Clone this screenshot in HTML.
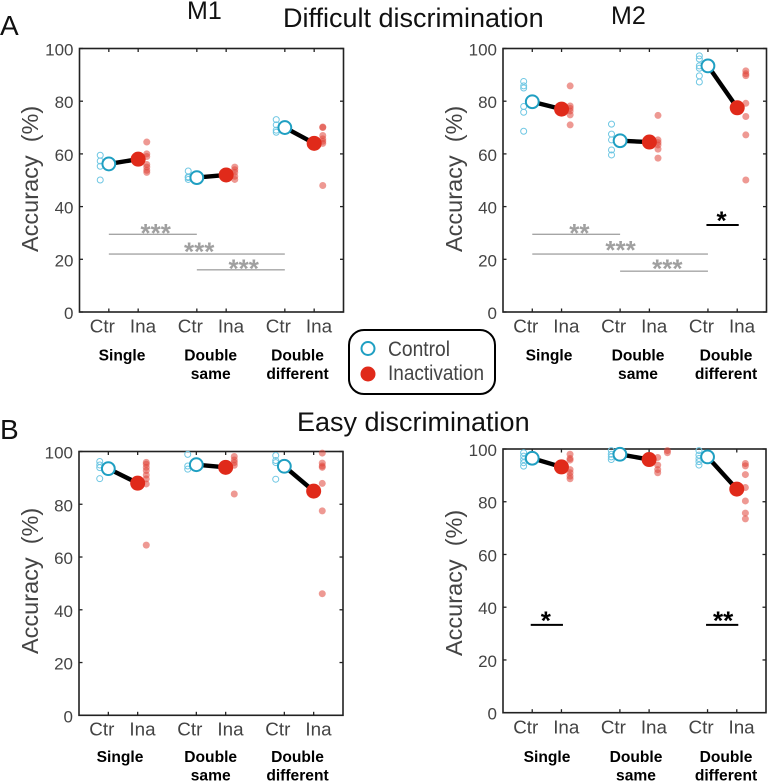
<!DOCTYPE html>
<html lang="en">
<head>
<meta charset="utf-8">
<title>Accuracy under control and inactivation</title>
<style>
html,body{margin:0;padding:0;background:#fff;}
svg{display:block;font-family:"Liberation Sans",Arial,sans-serif;}
</style>
</head>
<body>
<svg id="fig" width="768" height="781" viewBox="0 0 768 781" xmlns="http://www.w3.org/2000/svg">
  <text x="0" y="35" font-size="28" fill="#111">A</text>
  <text x="0" y="439" font-size="28" fill="#111">B</text>
  <text x="187" y="19" font-size="25" fill="#111">M1</text>
  <text x="611" y="24" font-size="25" fill="#111">M2</text>
  <text x="283" y="27" font-size="27" fill="#111">Difficult discrimination</text>
  <text x="297" y="431" font-size="27" fill="#111">Easy discrimination</text>
  <g>
    <rect x="349" y="330" width="146" height="64" rx="15" fill="#fff" stroke="#000" stroke-width="2"/>
    <circle cx="368" cy="348.500" r="6.500" fill="#fff" stroke="#1f9fc2" stroke-width="2"/>
    <circle cx="368" cy="374" r="7.500" fill="#e02a1a"/>
    <text x="388" y="356" font-size="21" fill="#444" textLength="62" lengthAdjust="spacingAndGlyphs">Control</text>
    <text x="388" y="380" font-size="21" fill="#444" textLength="96" lengthAdjust="spacingAndGlyphs">Inactivation</text>
  </g>
</svg>
<script>
// Shared labels
const yTicks = [0, 20, 40, 60, 80, 100];
const xTickUnits = [1, 2, 4, 5, 7, 8];
const xTickLabels = ['Ctr', 'Ina', 'Ctr', 'Ina', 'Ctr', 'Ina'];
const categoryLine1 = ['Single', 'Double', 'Double'];
const categoryLine2 = ['', 'same', 'different'];

// Panel A, M1
const a1CtrMeans = [56.2, 51, 70];
const a1InaMeans = [58, 52, 64];
const a1CtrPoints = [[59.5, 57.3, 55.3, 50.1], [53.5, 51.3, 50.3, 51], [73, 71, 69, 68.2]];
const a1InaPoints = [[64.5, 60, 59, 56, 55, 53.8, 53], [55, 54, 53, 51.5, 50.3], [70.2, 70, 67, 65.7, 64.8, 64, 48]];
const a1InaOuter = [[], [], []];
const a1SigValues = [29.5, 22, 16];
const a1SigStart = [1, 1, 4];
const a1SigEnd = [4, 7, 7];
const a1SigLabels = ['***', '***', '***'];

// Panel A, M2
const a2CtrMeans = [79.8, 65, 93.4];
const a2InaMeans = [77, 64.5, 77.5];
const a2CtrPoints = [[87.5, 85.8, 85, 78, 75.8, 68.6], [71.3, 67.5, 65.3, 61.5, 59.6], [97.2, 96, 93.4, 92.5, 89.6, 87.3]];
const a2InaPoints = [[85.8, 78.2, 77.3, 76.3, 74.8, 71], [74.6, 65.3, 64.3, 63.4, 61.8, 58.4], [91.5, 90.4, 89.7, 79.2, 74.2, 67.2, 50.1]];
const a2InaOuter = [[], [], []];
const a2SigValues = [29.5, 22, 15.5, 33];
const a2SigStart = [1, 1, 4, 7];
const a2SigEnd = [4, 7, 7, 8];
const a2SigLabels = ['**', '***', '***', '*'];

// Panel B, M1
const b1CtrMeans = [93.5, 95, 94.4];
const b1InaMeans = [88, 94, 85];
const b1CtrPoints = [[96.2, 94.9, 93.9, 89.7], [98.9, 94.5, 93.3], [98.5, 96.6, 95.8, 89.5]];
const b1InaPoints = [[95.9, 95.2, 94, 92.8, 91.1, 89.6, 87.7, 64.5], [98.1, 96.8, 95.8, 94.8, 83.9], [99.4, 95.6, 94.5, 94, 87.9, 77.5, 46.1]];
const b1InaOuter = [[], [], []];
const b1SigValues = [];
const b1SigStart = [];
const b1SigEnd = [];
const b1SigLabels = [];

// Panel B, M2
const b2CtrMeans = [96.5, 98, 97];
const b2InaMeans = [93.2, 96, 84.8];
const b2CtrPoints = [[98.6, 97.3, 96, 94.8, 93.5], [99.4, 98, 97, 96], [99.4, 97.7, 96.4, 95.2, 93.9]];
const b2InaPoints = [[98, 96.4, 95.8, 92.2, 91, 89.7, 88.7], [96.8, 93.9, 92.2, 91], [94.5, 93.6, 90.3, 85.4, 80.3, 75.7, 73.5]];
const b2InaOuter = [[], [99.4, 98.6], []];
const b2SigValues = [33.3, 33.3];
const b2SigStart = [1, 7];
const b2SigEnd = [2, 8];
const b2SigLabels = ['*', '**'];

const NS = 'http://www.w3.org/2000/svg';
const fig = document.getElementById('fig');

function mk(parent, tag, attrs, text) {
  const el = document.createElementNS(NS, tag);
  for (const k in attrs) el.setAttribute(k, attrs[k]);
  if (text !== undefined) el.textContent = text;
  parent.appendChild(el);
  return el;
}

function drawPanel(p) {
  const xs = u => p.left + (p.right - p.left) * u / 9;
  const ys = v => p.bottom - (p.bottom - p.top) * v / 100;

  const g = mk(fig, 'g', {});
  
  

  const frame = mk(g, 'rect', {x: p.left, y: p.top, width: p.right - p.left, height: p.bottom - p.top, fill: 'none', stroke: '#222', 'stroke-width': 1.6});
  
  

  yTicks.forEach(v => {
    const y = ys(v);
    const t1 = mk(g, 'line', {x1: p.left, x2: p.left + 3.5, y1: y, y2: y, stroke: '#222', 'stroke-width': 1.3});
    
    
    const t2 = mk(g, 'line', {x1: p.right, x2: p.right - 3.5, y1: y, y2: y, stroke: '#222', 'stroke-width': 1.3});
    
    
    const lab = mk(g, 'text', {x: p.left - 6, y: y + 7, 'text-anchor': 'end', 'font-size': 17, fill: '#444'}, String(v));
    
    
  });

  xTickUnits.forEach((u, i) => {
    const x = xs(u);
    const t1 = mk(g, 'line', {x1: x, x2: x, y1: p.bottom, y2: p.bottom - 3.5, stroke: '#222', 'stroke-width': 1.3});
    
    
    const t2 = mk(g, 'line', {x1: x, x2: x, y1: p.top, y2: p.top + 3.5, stroke: '#222', 'stroke-width': 1.3});
    
    
    const off = i % 2 === 0 ? -6.5 : 4.8;
    const lab = mk(g, 'text', {x: x + off, y: p.xLabelY, 'text-anchor': 'middle', 'font-size': 18.8, fill: '#444'}, xTickLabels[i]);
    
    
  });

  categoryLine1.forEach((c, i) => {
    const l1 = mk(g, 'text', {x: p.catX[i], y: p.catY, 'text-anchor': 'middle', 'font-size': 15.6, 'font-weight': 'bold', fill: '#000'}, c);
    
    
    if (categoryLine2[i]) {
      const l2 = mk(g, 'text', {x: p.catX[i], y: p.catY + 18.5, 'text-anchor': 'middle', 'font-size': 15.6, 'font-weight': 'bold', fill: '#000'}, categoryLine2[i]);
      
      
    }
  });

  const yt = mk(g, 'text', {transform: 'translate(' + p.titleX + ' ' + p.titleY + ') rotate(-90)', 'font-size': 23.5, fill: '#444', style: 'white-space:pre'}, 'Accuracy  (%)');
  
  

  p.ctrPoints.forEach((arr, i) => {
    arr.forEach(v => {
      const c = mk(g, 'circle', {cx: xs(3 * i + 1) - 8.6, cy: ys(v), r: 3, fill: 'none', stroke: '#6fc7e3', 'stroke-width': 1});
      
      
    });
  });
  p.inaPoints.forEach((arr, i) => {
    arr.forEach(v => {
      const c = mk(g, 'circle', {cx: xs(3 * i + 2) + 8.6, cy: ys(v), r: 3.5, fill: '#e0453a', 'fill-opacity': 0.55});
      
      
    });
  });
  p.inaOuter.forEach((arr, i) => {
    arr.forEach(v => {
      const c = mk(g, 'circle', {cx: xs(3 * i + 2) + 18.3, cy: ys(v), r: 3.5, fill: '#e0453a', 'fill-opacity': 0.55});
      
      
    });
  });

  p.ctrMeans.forEach((v, i) => {
    const ln = mk(g, 'line', {x1: xs(3 * i + 1), x2: xs(3 * i + 2), y1: ys(v), y2: ys(p.inaMeans[i]), stroke: '#000', 'stroke-width': 4.4});
    
    
    const m1 = mk(g, 'circle', {cx: xs(3 * i + 1), cy: ys(v), r: 6.4, fill: '#fff', stroke: '#1f9fc2', 'stroke-width': 2});
    
    
    const m2 = mk(g, 'circle', {cx: xs(3 * i + 2), cy: ys(p.inaMeans[i]), r: 7.5, fill: '#e02a1a'});
    
    
  });

  p.sigValues.forEach((v, i) => {
    const black = p.sigStart[i] + 1 === p.sigEnd[i];
    const col = black ? '#000' : '#a5a5a5';
    const pad = black ? 1.5 : 0;
    const b = mk(g, 'line', {x1: xs(p.sigStart[i]) - pad, x2: xs(p.sigEnd[i]) + pad, y1: ys(v), y2: ys(v), stroke: col, 'stroke-width': black ? 2 : 1.4});
    
    
    const cx = (xs(p.sigStart[i]) + xs(p.sigEnd[i])) / 2 + p.starDx[i];
    const s = mk(g, 'text', {x: cx, y: ys(v) + p.starDy[i], 'text-anchor': 'middle', 'font-size': 26, 'font-weight': 'bold', fill: black ? '#000' : '#a0a0a0'}, p.sigLabels[i]);
    
    
  });
}

drawPanel({
  name: 'difficult-m1', left: 79.5, right: 343.5, top: 48.5, bottom: 312,
  xLabelY: 332.5, catX: [122, 210.7, 297.5], catY: 360.5, titleX: 38, titleY: 252,
  ctrMeans: a1CtrMeans, inaMeans: a1InaMeans, ctrPoints: a1CtrPoints, inaPoints: a1InaPoints, inaOuter: a1InaOuter,
  sigValues: a1SigValues, sigStart: a1SigStart, sigEnd: a1SigEnd, sigLabels: a1SigLabels,
  starDx: [2.8, 2.4, 2.9], starDy: [7.5, 6.5, 7.5]
});
drawPanel({
  name: 'difficult-m2', left: 503, right: 766.5, top: 48.5, bottom: 312,
  xLabelY: 332.5, catX: [549, 638, 726], catY: 360.5, titleX: 462, titleY: 252,
  ctrMeans: a2CtrMeans, inaMeans: a2InaMeans, ctrPoints: a2CtrPoints, inaPoints: a2InaPoints, inaOuter: a2InaOuter,
  sigValues: a2SigValues, sigStart: a2SigStart, sigEnd: a2SigEnd, sigLabels: a2SigLabels,
  starDx: [3.2, 0.4, 3.3, -1], starDy: [7.5, 5, 6.5, 4.5]
});
drawPanel({
  name: 'easy-m1', left: 79, right: 343, top: 451.5, bottom: 715.3,
  xLabelY: 735.5, catX: [120, 210.7, 297.5], catY: 762, titleX: 38, titleY: 654,
  ctrMeans: b1CtrMeans, inaMeans: b1InaMeans, ctrPoints: b1CtrPoints, inaPoints: b1InaPoints, inaOuter: b1InaOuter,
  sigValues: b1SigValues, sigStart: b1SigStart, sigEnd: b1SigEnd, sigLabels: b1SigLabels,
  starDx: [], starDy: []
});
drawPanel({
  name: 'easy-m2', left: 503, right: 766, top: 449, bottom: 712.7,
  xLabelY: 733.5, catX: [547, 636, 726], catY: 762, titleX: 462, titleY: 656,
  ctrMeans: b2CtrMeans, inaMeans: b2InaMeans, ctrPoints: b2CtrPoints, inaPoints: b2InaPoints, inaOuter: b2InaOuter,
  sigValues: b2SigValues, sigStart: b2SigStart, sigEnd: b2SigEnd, sigLabels: b2SigLabels,
  starDx: [-1, 1], starDy: [4.5, 4.5]
});
</script>
</body>
</html>
